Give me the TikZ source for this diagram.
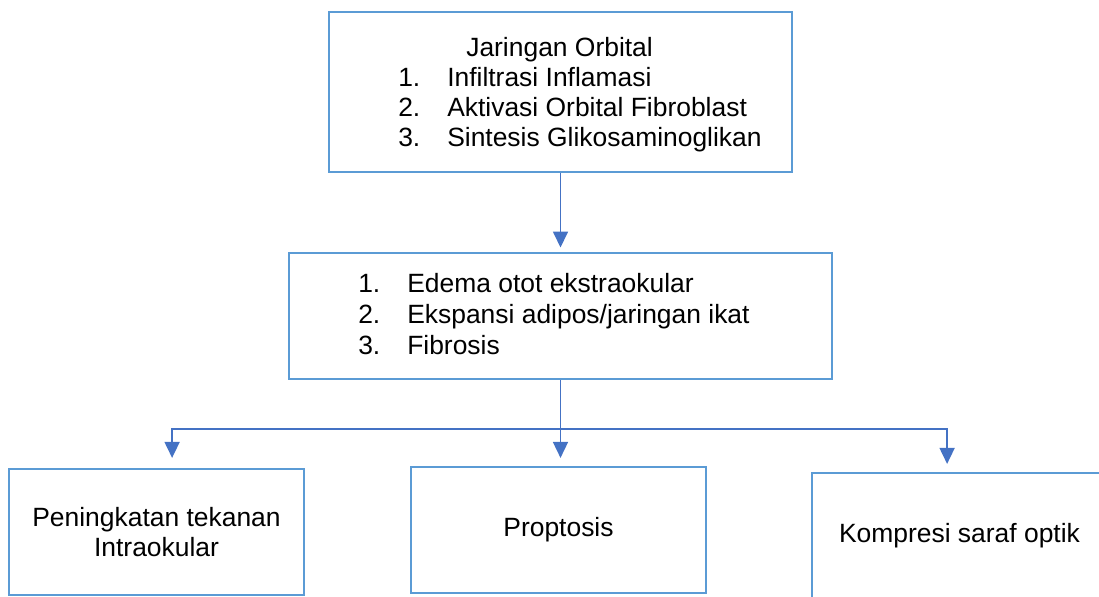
\documentclass[tikz,border=0pt]{standalone}
\usepackage{fontspec}
\setmainfont{Liberation Sans}
\usepackage{xcolor}
\usepackage{tikz}
\usetikzlibrary{arrows.meta,positioning,calc}
\definecolor{boxcol}{HTML}{5B9BD5}
\definecolor{arrcol}{HTML}{4472C4}

\begin{document}
\begin{tikzpicture}[font=\fontsize{18.8}{21.3}\selectfont,
  bx/.style={draw=boxcol,line width=2.1pt,inner sep=0pt,align=center},
  ln/.style={anchor=base west,inner sep=0pt},
  wire/.style={draw=arrcol,line width=1.2pt},
  arr/.style={wire,-{Triangle[length=4mm,width=3.75mm]}},
]
\clip (0,0) rectangle (27.475,14.925);

\node[bx,minimum width=11.575cm,minimum height=4.0cm] (jaringan) at (14.0125,12.625) {};
\node[ln] (j0) at (11.65,13.5) {Jaringan Orbital};
\node[ln] (j1) at (9.95,12.75) {\makebox[1.225cm][l]{1.}Infiltrasi Inflamasi};
\node[ln] (j2) at (9.95,12.0) {\makebox[1.225cm][l]{2.}Aktivasi Orbital Fibroblast};
\node[ln] (j3) at (9.95,11.25) {\makebox[1.225cm][l]{3.}Sintesis Glikosaminoglikan};

\node[bx,minimum width=13.575cm,minimum height=3.15cm] (perubahan) at (14.0125,7.025) {};
\node[ln] (e1) at (8.95,7.6) {\makebox[1.225cm][l]{1.}Edema otot ekstraokular};
\node[ln] (e2) at (8.95,6.825) {\makebox[1.225cm][l]{2.}Ekspansi adipos/jaringan ikat};
\node[ln] (e3) at (8.95,6.05) {\makebox[1.225cm][l]{3.}Fibrosis};

\node[bx,minimum width=7.375cm,minimum height=3.15cm] (tekanan) at (3.9125,1.625)
  {Peningkatan tekanan\\Intraokular};
\node[bx,minimum width=7.375cm,minimum height=3.15cm] (proptosis) at (13.9625,1.675)
  {Proptosis};
\node[bx,minimum width=7.375cm,minimum height=3.15cm] (kompresi) at (23.9875,1.525)
  {Kompresi saraf optik};

\draw[arr,shorten >=0.1cm] (jaringan.south) -- (perubahan.north);

\coordinate (cabang) at (perubahan.south |- 0,4.2);
\draw[wire] (perubahan.south) -- (cabang);
\draw[arr,shorten >=0.24cm] (cabang) -| ([xshift=0.39cm]tekanan.north);
\draw[arr,shorten >=0.19cm] (cabang) -- (cabang |- proptosis.north);
\draw[arr,shorten >=0.19cm] (cabang) -| ([xshift=-0.31cm]kompresi.north);
\end{tikzpicture}
\end{document}
